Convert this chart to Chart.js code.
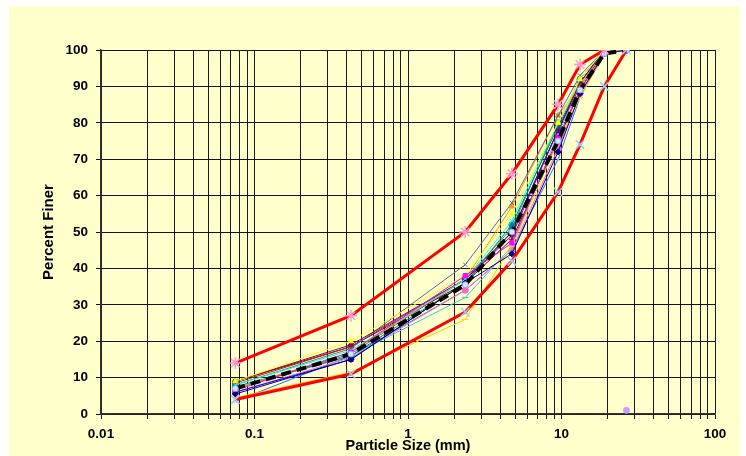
<!DOCTYPE html>
<html>
<head>
<meta charset="utf-8">
<script src="https://cdn.jsdelivr.net/npm/chart.js@4/dist/chart.umd.min.js"></script>
<style>
  html, body { margin: 0; padding: 0; background: #fff; }
  #wrap { width: 746px; height: 456px; }
</style>
</head>
<body>
<div id="wrap"><canvas id="psd" width="746" height="456"></canvas></div>
<script>
// sieve sizes (mm)
const sizes = [0.075, 0.425, 2.36, 4.75, 9.5, 13.2, 19, 26.5];
const xTickLabels = ['0.01', '0.1', '1', '10', '100'];

// percent finer for each sample
const upperLimit = [14, 27, 50, 66, 85, 96, 100];
const lowerLimit = [4, 11, 28, 42, 61, 74, 90, 100];
const average    = [7, 16.5, 35.5, 50, 75, 89, 99, 100];
const s1  = [5.5, 15, 36, 44, 72, 88, 99, 100];
const s2  = [6.5, 17, 38, 47, 76, 89, 99, 100];
const s3  = [9, 20, 38, 55, 80, 92, 100, 100];
const s4  = [8, 17.5, 37, 53, 80, 92, 100, 100];
const s5  = [9, 19, 37, 49, 78, 91, 100, 100];
const s6  = [8, 18, 41, 58, 82, 93, 100, 100];
const s7  = [7, 17, 37, 57, 82, 90, 100, 100];
const s8  = [4.5, 11.5, 26, 46, 75, 87, 99, 100];
const s9  = [7.5, 16, 36, 52, 79, 91, 100, 100];
const s10 = [6, 15, 36, 50, 78, 91, 100, 100];
const s11 = [8.5, 18.5, 37, 50, 78, 90, 100, 100];
const s12 = [7, 16, 32, 46, 77, 90, 100, 100];
const s13 = [9, 18.5, 36, 48, 75, 89, 100, 100];
const s14 = [7, 16.5, 37, 51, 80, 92, 100, 100];
const s15 = [6, 15.5, 34, 45, 73, 88, 99, 100];
const s16 = [3.5, 16, 34, 45, 70, 87, 99, 100];
const strayX = [26.5];
const strayY = [1];

function pts(xs, ys) {
  return ys.map((y, i) => ({ x: xs[i], y: y }));
}

function thin(vals, color, style, mcolor) {
  return {
    data: pts(sizes, vals),
    borderColor: color,
    backgroundColor: mcolor || color,
    pointBorderColor: mcolor || color,
    borderWidth: 1,
    pointBorderWidth: 1,
    pointStyle: style,
    pointRadius: 3,
    tension: 0
  };
}

// chart.js paints the first dataset on top, so the heavy lines go first
const datasets = [
  {
    data: pts(strayX, strayY),
    showLine: false,
    borderColor: '#CC99FF',
    backgroundColor: '#CC99FF',
    pointStyle: 'circle',
    pointRadius: 3
  },
  {
    data: pts(sizes, upperLimit),
    borderColor: '#FF0000',
    backgroundColor: '#FF99CC',
    pointBorderColor: '#FF99CC',
    borderWidth: 3,
    pointBorderWidth: 1.5,
    pointStyle: 'star',
    pointRadius: 6
  },
  {
    data: pts(sizes, lowerLimit),
    borderColor: '#FF0000',
    backgroundColor: '#99CCFF',
    pointBorderColor: '#99CCFF',
    borderWidth: 3,
    pointBorderWidth: 1.5,
    pointStyle: 'crossRot',
    pointRadius: 6
  },
  {
    data: pts(sizes, average),
    borderColor: '#000000',
    backgroundColor: '#CCECFF',
    pointBorderColor: '#9999FF',
    borderWidth: 4,
    pointBorderWidth: 1,
    borderDash: [10, 6],
    pointStyle: 'circle',
    pointRadius: 3
  },
  thin(s1, '#000080', 'rectRot'),
  thin(s2, '#FF00FF', 'rect'),
  thin(s3, '#FFFF00', 'triangle'),
  thin(s4, '#00FFFF', 'crossRot'),
  thin(s5, '#800080', 'star'),
  thin(s6, '#666699', 'crossRot'),
  thin(s7, '#FF9900', 'triangle'),
  thin(s8, '#FFCC00', 'line'),
  thin(s9, '#008080', 'circle'),
  thin(s10, '#0000FF', 'rect'),
  thin(s11, '#993300', 'circle'),
  thin(s12, '#33CCCC', 'line'),
  thin(s13, '#800000', 'cross'),
  thin(s14, '#339966', 'circle'),
  thin(s15, '#FF66CC', 'circle'),
  thin(s16, '#3366FF', 'crossRot', '#99CCFF')
];

const bgPlugin = {
  id: 'bg',
  beforeDraw(chart) {
    const c = chart.ctx;
    c.save();
    c.fillStyle = '#ffffff';
    c.fillRect(0, 0, chart.width, chart.height);
    c.fillStyle = '#FFFFCC';
    c.fillRect(9, 6, 731, 450);
    c.restore();
  }
};

const tickFont = { family: 'Liberation Sans, Arial', size: 13.5, weight: 'bold' };

const ctx = document.getElementById('psd').getContext('2d');
const psdChart = new Chart(ctx, {
  type: 'line',
  data: { datasets: datasets },
  options: {
    responsive: false,
    animation: false,
    layout: { padding: { left: 0, right: 31, top: 50, bottom: 0 } },
    scales: {
      x: {
        type: 'logarithmic',
        min: 0.01,
        max: 100,
        afterBuildTicks(axis) {
          const t = [];
          for (let e = -2; e <= 1; e++) {
            for (let m = 1; m <= 9; m++) t.push({ value: m * Math.pow(10, e) });
          }
          t.push({ value: 100 });
          axis.ticks = t;
        },
        afterFit(axis) { axis.height = 42; },
        ticks: {
          autoSkip: false,
          maxRotation: 0,
          padding: 7,
          color: '#000',
          font: tickFont,
          callback(v) {
            const i = [0.01, 0.1, 1, 10, 100].findIndex(p => Math.abs(v - p) < p * 1e-6);
            return i >= 0 ? xTickLabels[i] : '';
          }
        },
        grid: { color: '#1a1a1a', lineWidth: 1, tickLength: 5, drawOnChartArea: true },
        border: { color: '#333', width: 1.5 },
        title: {
          display: true,
          text: 'Particle Size (mm)',
          color: '#000',
          font: { family: 'Liberation Sans, Arial', size: 14.5, weight: 'bold' },
          padding: { top: 0, bottom: 1 }
        }
      },
      y: {
        min: 0,
        max: 100,
        afterFit(axis) { axis.width = 101; },
        ticks: {
          stepSize: 10,
          padding: 8,
          color: '#000',
          font: tickFont
        },
        grid: { color: '#111', lineWidth: 1, tickLength: 5 },
        border: { color: '#333', width: 1.5 },
        title: {
          display: true,
          text: 'Percent Finer',
          color: '#000',
          font: { family: 'Liberation Sans, Arial', size: 15, weight: 'bold' },
          padding: { top: 40, bottom: 0 }
        }
      }
    },
    plugins: {
      legend: { display: false },
      tooltip: { enabled: false }
    }
  },
  plugins: [bgPlugin]
});
</script>
</body>
</html>
